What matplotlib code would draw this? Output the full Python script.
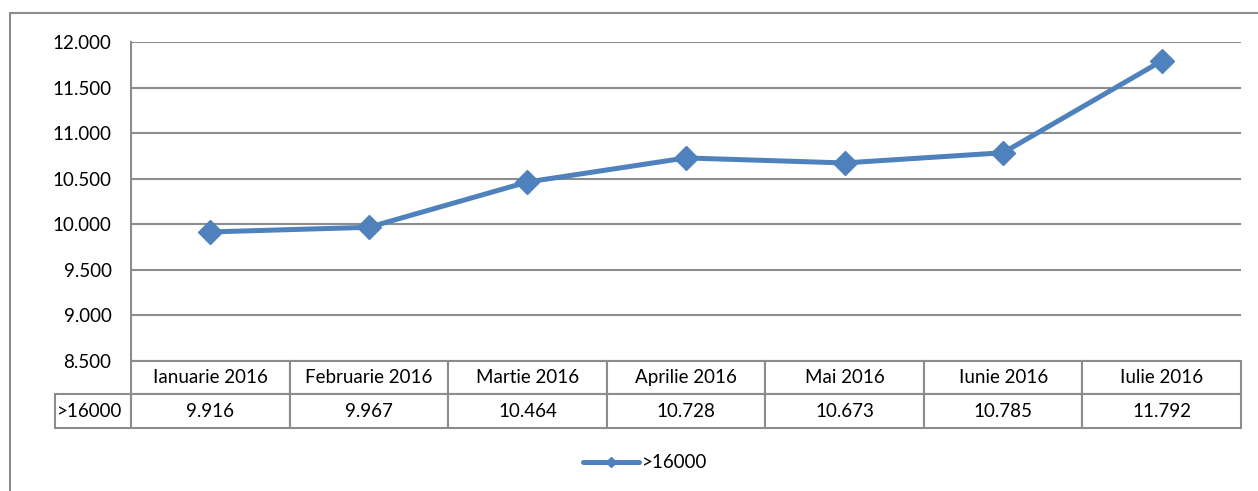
import matplotlib.pyplot as plt
from matplotlib.table import Table
from matplotlib.patches import Rectangle
from matplotlib.ticker import FuncFormatter

# data
months = ['Ianuarie 2016', 'Februarie 2016', 'Martie 2016', 'Aprilie 2016',
          'Mai 2016', 'Iunie 2016', 'Iulie 2016']
series_name = '>16000'
values = [9916, 9967, 10464, 10728, 10673, 10785, 11792]
y_ticks = [8500, 9000, 9500, 10000, 10500, 11000, 11500, 12000]

plt.rcParams['font.family'] = ['Lato', 'DejaVu Sans']
grey = '#8c8c8c'
blue = '#4f81bd'
fs = 13.5


def dotted(v):
    # thousands separator as in the original (12.000)
    return f'{int(v):,}'.replace(',', '.')


W, H = 1258, 491
fig = plt.figure(figsize=(W / 100, H / 100), dpi=100)
ax = fig.add_axes([131 / W, 1 - 361 / H, (1241 - 131) / W, (361 - 42) / H])

x = list(range(len(months)))
ax.plot(x, values, color=blue, lw=3.6, marker='D', ms=12, label=series_name,
        solid_capstyle='round', zorder=3)

ax.set_xlim(-0.5, len(months) - 0.5)
ax.set_ylim(8500, 12000)
ax.set_yticks(y_ticks)
ax.yaxis.set_major_formatter(FuncFormatter(lambda v, p: dotted(v)))
ax.tick_params(axis='y', length=0, pad=14, labelsize=fs, colors='black')
ax.set_xticks([])
ax.grid(axis='y', color=grey, lw=1.5)
for s in ['top', 'right', 'bottom']:
    ax.spines[s].set_visible(False)
ax.spines['left'].set_color(grey)
ax.spines['left'].set_linewidth(1.5)

# data table under the plot
lab_w = 76 / (1241 - 131)
col_w = 1.0 / len(months)
row_h = 0.105
tb = Table(ax, bbox=[-lab_w, -2 * row_h, 1 + lab_w, 2 * row_h])
c = tb.add_cell(0, 0, width=lab_w, height=row_h, text='')
c.visible_edges = ''
for j, m in enumerate(months):
    tb.add_cell(0, j + 1, width=col_w, height=row_h, text=m, loc='center')
    tb.add_cell(1, j + 1, width=col_w, height=row_h, text=dotted(values[j]), loc='center')
tb.add_cell(1, 0, width=lab_w, height=row_h, text=series_name, loc='left')
tb.auto_set_font_size(False)
tb.set_fontsize(fs)
for cell in tb.get_celld().values():
    cell.set_edgecolor(grey)
    cell.set_linewidth(1.5)
    cell.PAD = 0.03
ax.add_table(tb)

fig.legend(loc='center', bbox_to_anchor=(645 / W, 1 - 463 / H), frameon=False,
           fontsize=fs, handlelength=3.0, handletextpad=0.15, markerscale=0.45)

# outer chart border (only left and top visible)
fig.add_artist(Rectangle((10 / W, -0.5), 2, 0.5 + (1 - 13 / H), transform=fig.transFigure,
                         fill=False, edgecolor=grey, lw=1.5))

fig.savefig('out.png', dpi=100)
